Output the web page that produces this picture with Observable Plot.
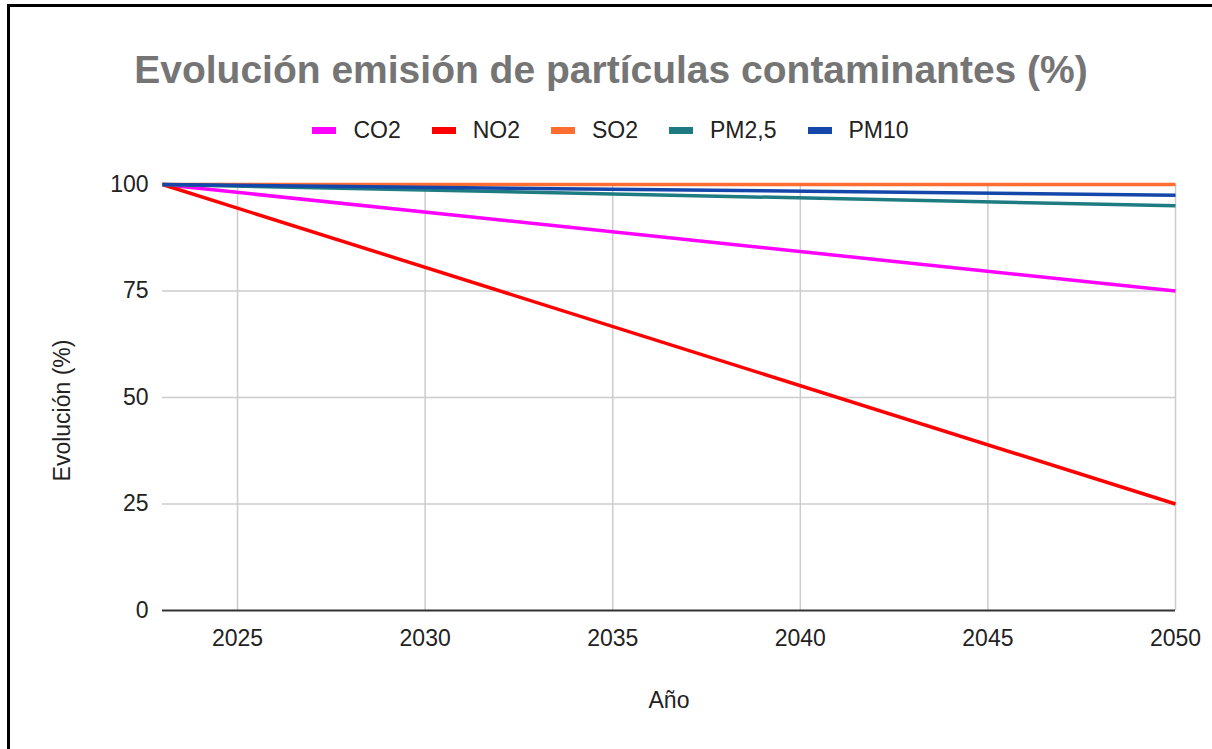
<!DOCTYPE html>
<html>
<head>
<meta charset="utf-8">
<script src="https://cdn.jsdelivr.net/npm/d3@7"></script>
<script src="https://cdn.jsdelivr.net/npm/@observablehq/plot@0.6"></script>
<style>
  html, body { margin: 0; padding: 0; background: #fff; }
  #wrap { position: relative; width: 1212px; height: 749px; overflow: hidden; font-family: "Liberation Sans", Arial, sans-serif; }
  #frame { position: absolute; left: 7px; top: 4px; width: 1300px; height: 900px; border-top: 3px solid #000; border-left: 3px solid #000; pointer-events: none; }
  #header { position: relative; height: 150px; }
  #title { position: absolute; left: 0; top: 50px; width: 1222px; text-align: center; font-weight: bold; font-size: 39px; line-height: 39px; color: #757575; white-space: nowrap; }
  #legend { position: absolute; left: 0; top: 119px; width: 1221px; height: 23px; display: flex; justify-content: center; align-items: center; font-size: 23px; line-height: 23px; color: #222; }
  .item { display: flex; align-items: center; margin: 0 15.5px; }
  .sw { width: 24px; height: 7px; margin-right: 17px; }
  #chart svg { display: block; }
</style>
</head>
<body>
<div id="wrap">
  <div id="header">
    <div id="title"></div>
    <div id="legend"></div>
  </div>
  <div id="chart"></div>
  <div id="frame"></div>
</div>
<script>
const titleText = "Evolución emisión de partículas contaminantes (%)";
const xLabel = "Año";
const yLabel = "Evolución (%)";

const series = ["CO2", "NO2", "SO2", "PM2,5", "PM10"];
const colors = ["#ff00ff", "#ff0000", "#ff6d31", "#1e7b82", "#1547aa"];

const years = [2023, 2050];
const co2  = [100, 75];
const no2  = [100, 25];
const so2  = [100, 100];
const pm25 = [100, 95];
const pm10 = [100, 97.5];

const xTicks = [2025, 2030, 2035, 2040, 2045, 2050];
const yTicks = [0, 25, 50, 75, 100];

const valuesBySeries = [co2, no2, so2, pm25, pm10];
const data = [];
series.forEach((s, i) => {
  years.forEach((yr, j) => data.push({series: s, year: yr, value: valuesBySeries[i][j]}));
});

document.getElementById("title").textContent = titleText;
const legend = document.getElementById("legend");
series.forEach((s, i) => {
  const item = document.createElement("div");
  item.className = "item";
  const sw = document.createElement("span");
  sw.className = "sw";
  sw.style.background = colors[i];
  const tx = document.createElement("span");
  tx.textContent = s;
  item.appendChild(sw);
  item.appendChild(tx);
  legend.appendChild(item);
});

const font = "'Liberation Sans', Arial, sans-serif";

const chart = Plot.plot({
  width: 1212,
  height: 599,
  marginTop: 34,
  marginBottom: 139,
  marginLeft: 162,
  marginRight: 37,
  style: {fontFamily: font, fontSize: "23px", color: "#222", background: "transparent"},
  x: {domain: [2023, 2050], type: "linear"},
  y: {domain: [0, 100]},
  color: {domain: series, range: colors},
  marks: [
    Plot.ruleY(yTicks.filter(d => d !== 0), {stroke: "#cccccc", strokeWidth: 1.5}),
    Plot.ruleX(xTicks, {stroke: "#cccccc", strokeWidth: 1.5}),
    Plot.ruleY([0], {stroke: "#333333", strokeWidth: 2}),
    Plot.line(data, {x: "year", y: "value", z: "series", stroke: "series", strokeWidth: 3.5, strokeLinecap: "butt"}),
    Plot.axisX({ticks: xTicks, tickSize: 0, tickPadding: 19, tickFormat: d => String(d), fontSize: 23, label: null, fill: "#222"}),
    Plot.axisY({ticks: yTicks, tickSize: 0, tickPadding: 14, fontSize: 23, label: null, fill: "#222"}),
    Plot.text([yLabel], {frameAnchor: "left", textAnchor: "middle", lineAnchor: "middle", rotate: -90, dx: -100, dy: 13, fontSize: 23, fill: "#222"}),
    Plot.text([xLabel], {frameAnchor: "bottom", textAnchor: "middle", lineAnchor: "middle", dy: 90, fontSize: 23, fill: "#222"})
  ]
});
document.getElementById("chart").appendChild(chart);
</script>
</body>
</html>
